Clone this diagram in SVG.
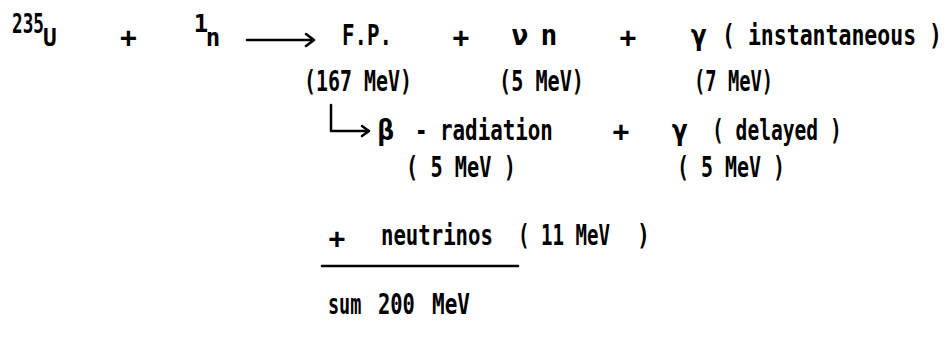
<svg xmlns="http://www.w3.org/2000/svg" width="948" height="356" viewBox="0 0 948 356">
<style>
.t{font-family:"DejaVu Sans Mono","Liberation Mono",monospace;font-size:28px;font-weight:bold;fill:#000}
.s{font-size:24px}
.c{text-anchor:middle}
.ln{fill:none;stroke:#000;stroke-width:2.5;stroke-linecap:round;stroke-linejoin:round}
</style>
<rect width="948" height="356" fill="#fff"/>
<g id="uranium">
<text class="t" transform="translate(12,33) scale(0.68,1)" style="font-size:26px">235</text>
<text class="t s" transform="translate(43,46) scale(0.95,1)">U</text>
</g>
<text class="t c" x="128.5" y="47">+</text>
<g id="neutron">
<text class="t s c" x="201" y="32">1</text>
<text class="t s c" x="213" y="46">n</text>
</g>
<g id="fission-products">
<text class="t" transform="translate(342,45) scale(0.742,1)">F.P.</text>
<text class="t" transform="translate(304,91) scale(0.712,1)">(167 MeV)</text>
</g>
<text class="t c" x="461" y="47">+</text>
<g id="neutrons">
<text class="t c" x="520" y="45">ν</text>
<text class="t c" x="549" y="45">n</text>
<text class="t" transform="translate(499,91) scale(0.72,1)">(5 MeV)</text>
</g>
<text class="t c" x="628" y="47">+</text>
<g id="gamma-instant">
<text class="t c" x="699" y="45">γ</text>
<text class="t" transform="translate(722,45) scale(0.768,1)">( instantaneous )</text>
<text class="t" transform="translate(694,91) scale(0.67,1)">(7 MeV)</text>
</g>
<g id="beta">
<text class="t c" x="386" y="140">β</text>
<text class="t" transform="translate(415,140) scale(0.744,1)">- radiation</text>
<text class="t" transform="translate(406,177) scale(0.725,1)">( 5 MeV )</text>
</g>
<text class="t c" x="621" y="141">+</text>
<g id="gamma-delayed">
<text class="t c" x="680" y="140">γ</text>
<text class="t" transform="translate(712,140) scale(0.70,1)">( delayed )</text>
<text class="t" transform="translate(677,177) scale(0.712,1)">( 5 MeV )</text>
</g>
<g id="neutrinos">
<text class="t c" x="337" y="248">+</text>
<text class="t" transform="translate(381,245) scale(0.738,1)">neutrinos</text>
<text class="t" transform="translate(518,245) scale(0.682,1)">( 11 MeV</text>
<text class="t" transform="translate(637,245) scale(0.77,1)">)</text>
</g>
<g id="sum">
<text class="t" transform="translate(328,314) scale(0.66,1)">sum</text>
<text class="t" transform="translate(378,314) scale(0.73,1)">200</text>
<text class="t" transform="translate(432,314) scale(0.75,1)">MeV</text>
</g>
<g id="connectors">
<path class="ln" d="M247,40 H313 M306,34 L314,40 L306,46"/>
<path class="ln" d="M331,105 V131 H368 M362,126 L369,131 L362,136"/>
<path class="ln" d="M322,266 H518"/>
</g>
</svg>
